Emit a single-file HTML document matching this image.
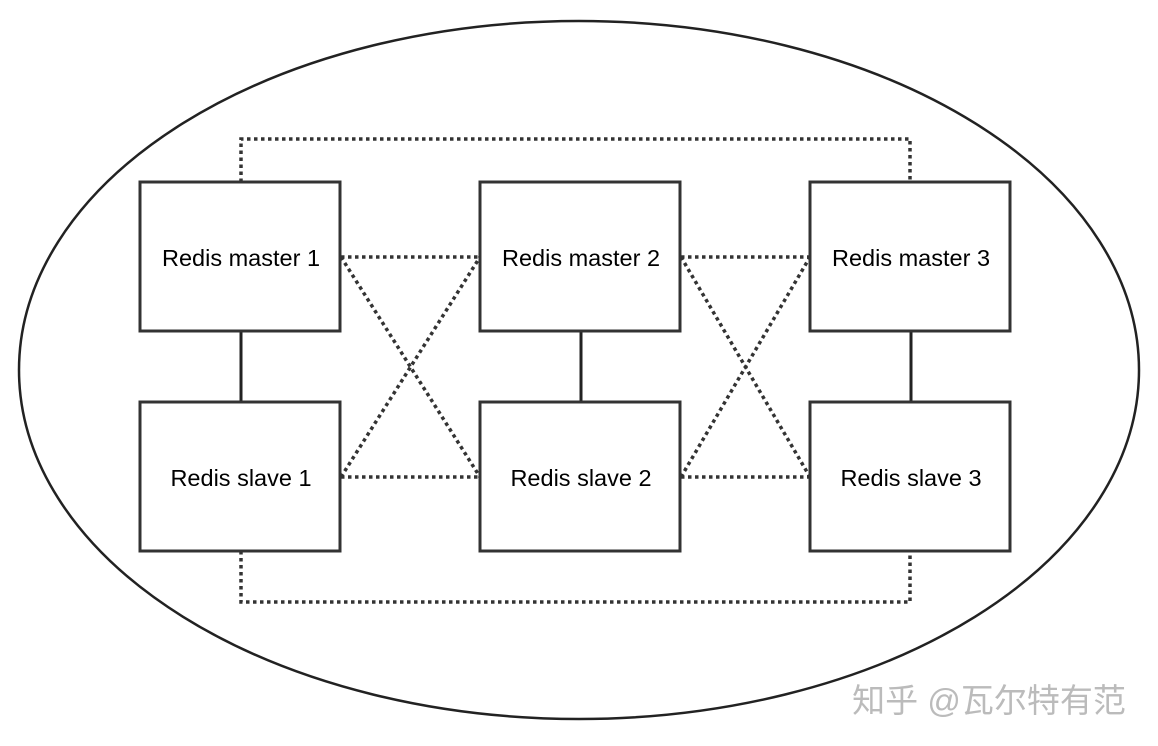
<!DOCTYPE html>
<html><head><meta charset="utf-8"><style>html,body{margin:0;padding:0;background:#fff}svg{display:block}</style></head>
<body>
<svg width="1158" height="746" viewBox="0 0 1158 746" xmlns="http://www.w3.org/2000/svg">
<rect width="1158" height="746" fill="#fff"/>
<ellipse cx="579" cy="370" rx="560" ry="349" fill="none" stroke="#222" stroke-width="2.5"/>
<g fill="none" stroke="#333" stroke-width="3.5" stroke-dasharray="3.5,3.5">
<polyline points="241,182 241,139 910,139 910,182"/>
<polyline points="241,551 241,602 910,602 910,551"/>
<line x1="341" y1="257" x2="480" y2="257"/>
<line x1="341" y1="477" x2="480" y2="477"/>
<line x1="341" y1="257" x2="480" y2="477"/>
<line x1="341" y1="477" x2="480" y2="257"/>
<line x1="681" y1="257" x2="810" y2="257"/>
<line x1="681" y1="477" x2="810" y2="477"/>
<line x1="681" y1="257" x2="810" y2="477"/>
<line x1="681" y1="477" x2="810" y2="257"/>
</g>
<g stroke="#222" stroke-width="3">
<line x1="241" y1="331" x2="241" y2="402"/>
<line x1="581" y1="331" x2="581" y2="402"/>
<line x1="911" y1="331" x2="911" y2="402"/>
</g>
<g fill="#fff" stroke="#333" stroke-width="3">
<rect x="140" y="182" width="200" height="149"/>
<rect x="480" y="182" width="200" height="149"/>
<rect x="810" y="182" width="200" height="149"/>
<rect x="140" y="402" width="200" height="149"/>
<rect x="480" y="402" width="200" height="149"/>
<rect x="810" y="402" width="200" height="149"/>
</g>
<g font-family="Liberation Sans, sans-serif" font-size="23.5" fill="#000" text-anchor="middle">
<text x="241" y="266">Redis master 1</text>
<text x="581" y="266">Redis master 2</text>
<text x="911" y="266">Redis master 3</text>
<text x="241" y="486">Redis slave 1</text>
<text x="581" y="486">Redis slave 2</text>
<text x="911" y="486">Redis slave 3</text>
</g>
<text x="989" y="712" text-anchor="middle" font-family="Liberation Sans, Noto Sans CJK SC, sans-serif" font-size="33" fill="#bbb">知乎 @瓦尔特有范</text>
</svg>
</body></html>
